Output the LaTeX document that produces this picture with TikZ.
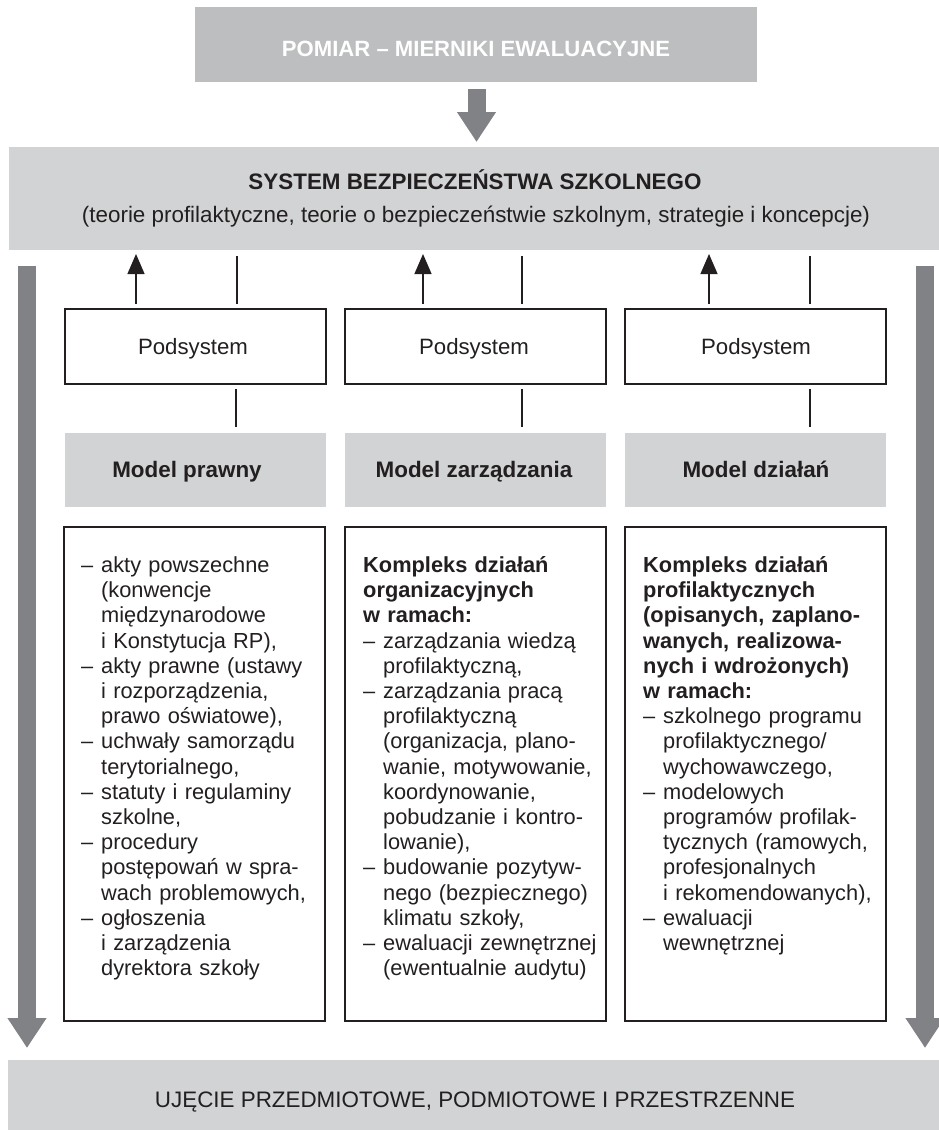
\documentclass[tikz,border=0pt]{standalone}
\usepackage{fontspec}
\setmainfont{Liberation Sans}
\usetikzlibrary{arrows.meta}
\definecolor{dgray}{RGB}{128,130,133}
\definecolor{mgray}{RGB}{188,190,192}
\definecolor{lgray}{RGB}{209,211,212}
\definecolor{ink}{RGB}{35,31,32}
\setlength{\parskip}{0pt}
\newcommand{\dashitem}{\par\hangindent=20pt\hangafter=1\noindent\makebox[20pt][l]{–}}
\newcommand{\boldhead}{\par\noindent\bfseries}
\newcommand{\nl}{\newline}
\begin{document}
\begin{tikzpicture}[x=1pt,y=-1pt,
  box/.style={rectangle, inner sep=0pt, outer sep=0pt, anchor=north west},
  graybox/.style={box, fill=lgray},
  whitebox/.style={box, draw=ink, line width=1.3pt, fill=white},
  lbl/.style={anchor=base, inner sep=0pt, text=ink},
  headfont/.style={font=\bfseries\fontsize{22.4}{26}\selectfont},
  podfont/.style={font=\fontsize{22.2}{26}\selectfont},
  modfont/.style={font=\bfseries\fontsize{22.4}{26}\selectfont},
  listtxt/.style={anchor=north west, inner sep=0pt, text width=250pt, text=ink,
    font=\fontsize{21.8}{25.2}\selectfont},
  link/.style={draw=ink, line width=1.3pt},
  uparrow/.style={link, -{Triangle[length=20pt,width=17pt]}},
  bigarrow/.style={draw=dgray, line width=18pt, -{Triangle[length=30pt,width=37pt]}}
]
\useasboundingbox (0,0) rectangle (939,1130);

% top box
\node[box, fill=mgray, minimum width=562pt, minimum height=75pt] (top) at (195,7) {};
\node[lbl, text=white, font=\bfseries\fontsize{22.1}{26}\selectfont] (toptxt) at (476,56.5) {POMIAR – MIERNIKI EWALUACYJNE};

% system box
\node[graybox, minimum width=930pt, minimum height=103pt] (sys) at (9,147) {};
\node[lbl, headfont] (systitle) at (475,189) {SYSTEM BEZPIECZEŃSTWA SZKOLNEGO};
\node[lbl, font=\fontsize{22.4}{26}\selectfont] (syssub) at (476,222) {(teorie profilaktyczne, teorie o bezpieczeństwie szkolnym, strategie i koncepcje)};

% bottom box
\node[graybox, minimum width=931pt, minimum height=70pt] (bot) at (8,1060) {};
\node[lbl, font=\fontsize{22.4}{26}\selectfont] (bottxt) at (475,1107) {UJĘCIE PRZEDMIOTOWE, PODMIOTOWE I PRZESTRZENNE};

% podsystem boxes
\node[whitebox, minimum width=261pt, minimum height=75pt] (pod1) at (65,309) {};
\node[whitebox, minimum width=261pt, minimum height=75pt] (pod2) at (345,309) {};
\node[whitebox, minimum width=261pt, minimum height=75pt] (pod3) at (625,309) {};
\node[lbl, podfont] (podt1) at (193,354) {Podsystem};
\node[lbl, podfont] (podt2) at (474,354) {Podsystem};
\node[lbl, podfont] (podt3) at (756,354) {Podsystem};

% model boxes
\node[graybox, minimum width=261pt, minimum height=74pt] (mod1) at (65,433) {};
\node[graybox, minimum width=261pt, minimum height=74pt] (mod2) at (345,433) {};
\node[graybox, minimum width=261pt, minimum height=74pt] (mod3) at (625,433) {};
\node[lbl, modfont] (modt1) at (187,477) {Model prawny};
\node[lbl, modfont] (modt2) at (474,477) {Model zarządzania};
\node[lbl, modfont] (modt3) at (756,477) {Model działań};

% text boxes
\node[whitebox, minimum width=261pt, minimum height=494pt] (txt1) at (64,527) {};
\node[whitebox, minimum width=261pt, minimum height=494pt] (txt2) at (345,527) {};
\node[whitebox, minimum width=261pt, minimum height=494pt] (txt3) at (625,527) {};

\node[listtxt] (list1) at (81,547) {\raggedright
\dashitem akty powszechne\nl (konwencje\nl międzynarodowe\nl i Konstytucja RP),
\dashitem akty prawne (ustawy\nl i rozporządzenia,\nl prawo oświatowe),
\dashitem uchwały samorządu\nl terytorialnego,
\dashitem statuty i regulaminy\nl szkolne,
\dashitem procedury\nl postępowań w spra-\nl wach problemowych,
\dashitem ogłoszenia\nl i zarządzenia\nl dyrektora szkoły\par};

\node[listtxt] (list2) at (363,547) {\raggedright
{\boldhead Kompleks działań\nl organizacyjnych\nl w ramach:\par}
\dashitem zarządzania wiedzą\nl profilaktyczną,
\dashitem zarządzania pracą\nl profilaktyczną\nl (organizacja, plano-\nl wanie, motywowanie,\nl koordynowanie,\nl pobudzanie i kontro-\nl lowanie),
\dashitem budowanie pozytyw-\nl nego (bezpiecznego)\nl klimatu szkoły,
\dashitem ewaluacji zewnętrznej\nl (ewentualnie audytu)\par};

\node[listtxt] (list3) at (643,547) {\raggedright
{\boldhead Kompleks działań\nl profilaktycznych\nl (opisanych, zaplano-\nl wanych, realizowa-\nl nych i wdrożonych)\nl w ramach:\par}
\dashitem szkolnego programu\nl profilaktycznego/\nl wychowawczego,
\dashitem modelowych\nl programów profilak-\nl tycznych (ramowych,\nl profesjonalnych\nl i rekomendowanych),
\dashitem ewaluacji\nl wewnętrznej\par};

% x positions of connectors
\coordinate (u1) at (136,0); \coordinate (v1) at (237,0); \coordinate (w1) at (236,0);
\coordinate (u2) at (423,0); \coordinate (v2) at (522,0); \coordinate (w2) at (522,0);
\coordinate (u3) at (709,0); \coordinate (v3) at (810,0); \coordinate (w3) at (810,0);
\coordinate (L) at (27,0); \coordinate (R) at (925,0);

\foreach \i in {1,2,3}{
  \draw[uparrow, shorten <=5pt, shorten >=4pt] (pod\i.north -| u\i) -- (sys.south -| u\i);
  \draw[link, shorten <=5pt, shorten >=6pt] (pod\i.north -| v\i) -- (sys.south -| v\i);
  \draw[link, shorten <=5pt, shorten >=6pt] (pod\i.south -| w\i) -- (mod\i.north -| w\i);
}

% big gray arrows
\draw[bigarrow, shorten <=7pt, shorten >=5pt] ([xshift=0.5pt]top.south) -- ([xshift=0.5pt]top.south |- sys.north);
\draw[bigarrow, shorten <=16pt, shorten >=12pt] (sys.south -| L) -- (bot.north -| L);
\draw[bigarrow, shorten <=16pt, shorten >=12pt] (sys.south -| R) -- (bot.north -| R);
\end{tikzpicture}
\end{document}
